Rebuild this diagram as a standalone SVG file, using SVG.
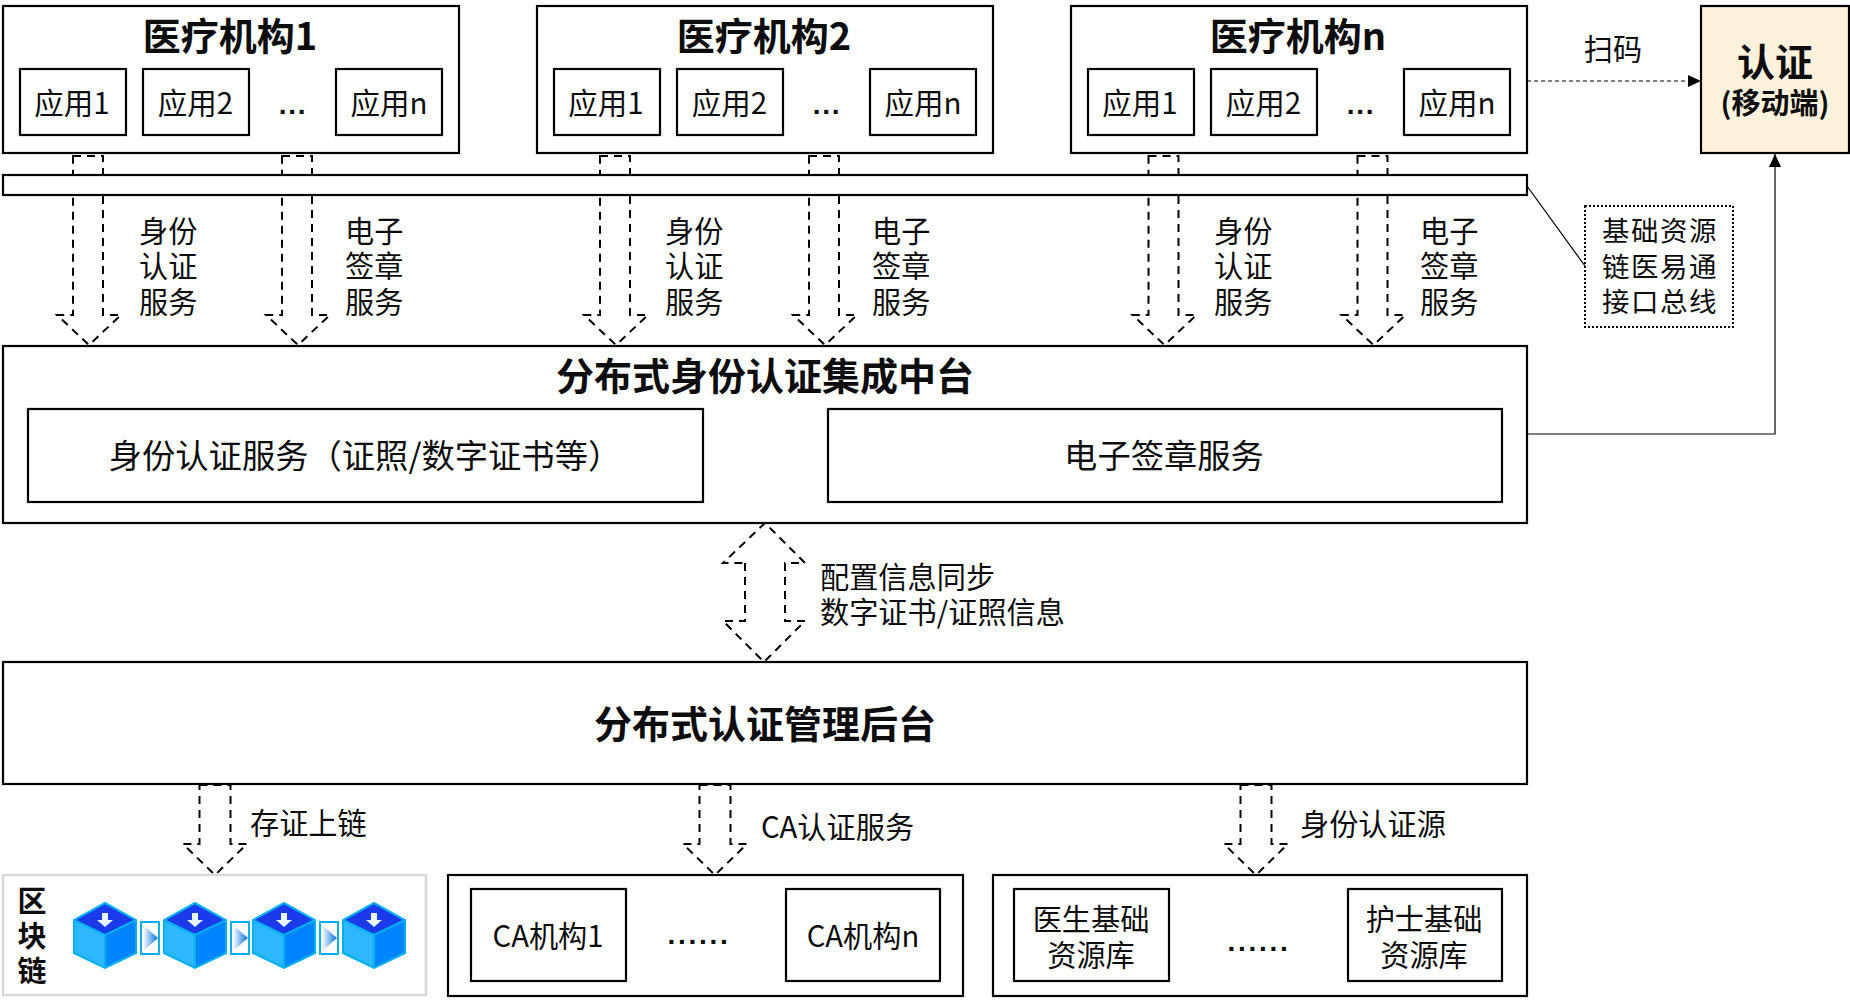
<svg xmlns="http://www.w3.org/2000/svg" width="1850" height="1006" viewBox="0 0 1850 1006">
<style>
text{font-family:"Noto Sans CJK SC","Noto Sans",sans-serif;fill:#0d0d0d;dominant-baseline:central;transform:translateY(-2.5px)}
.c{text-anchor:middle}
.t{font-size:29.200px}
.a{font-size:29.500px}
.b{font-weight:700;font-size:38px}
.m{font-size:33.300px}
.box{fill:#fff;stroke:#000;stroke-width:2.2}
.dash{fill:none;stroke:#000;stroke-width:2;stroke-dasharray:8 6}
.thin{fill:none;stroke:#000;stroke-width:1.2}
.dots{font-family:"Liberation Sans",sans-serif;font-size:28px}
</style>
<defs>
<path id="down" class="dash" d="M-15,156H15V315H33L1,345L-31,315H-15Z"/>
<path id="down2" class="dash" d="M-15.500,785H15.500V844H32L0,875L-32,844H-15.500Z"/>
<marker id="tri" markerUnits="userSpaceOnUse" markerWidth="14" markerHeight="12" refX="13" refY="6" orient="auto"><path d="M0,0L13,6L0,12Z" fill="#000"/></marker>
<linearGradient id="grad" x1="0" x2="1" y1="0" y2="0"><stop offset="0" stop-color="#fff"/><stop offset="1" stop-color="#0070E0"/></linearGradient>
<g id="cube">
<path d="M0,0L31,17V50L0,65L-31,50V17Z" fill="#2DB7FF"/>
<path d="M0,32L31,17V50L0,65Z" fill="#0084FF"/>
<path d="M0,0L31,17L0,32L-31,17Z" fill="#1B3BEB"/>
<path d="M0,0L31,17V50L0,65L-31,50V17ZM-31,17L0,32L31,17M0,32V65" fill="none" stroke="#00B0F0" stroke-width="2"/>
<path d="M-3,10H3V17H8L0,24L-8,17H-3Z" fill="#E8F8FF"/>
</g>
<g id="link">
<rect x="0" y="0" width="18" height="32" fill="#fff" stroke="#00B0F0" stroke-width="2"/>
<path d="M2,3L17,16L2,29Z" fill="url(#grad)"/>
</g>
<g id="apps">
<rect class="box" x="20" y="69" width="106" height="66"/>
<rect class="box" x="143" y="69" width="106" height="66"/>
<rect class="box" x="336" y="69" width="106" height="66"/>
<text class="a c" x="72" y="103">应用1</text>
<text class="a c" x="195.500" y="103">应用2</text>
<text class="a c" x="389" y="103">应用n</text>
<text class="dots c" x="293" y="107" font-weight="700" letter-spacing="1.800">...</text>
</g>
</defs>
<g id="connectors">
<use href="#down" x="88"/><use href="#down" x="297"/>
<use href="#down" x="615"/><use href="#down" x="824"/>
<use href="#down" x="1163.500"/><use href="#down" x="1372.500"/>
<path class="dash" d="M745,563V621H723L764,662L805,621H785V563H805L765,523L723,563Z"/>
<use href="#down2" x="215"/><use href="#down2" x="715"/><use href="#down2" x="1256"/>
<path class="thin" d="M1527,81H1701" stroke-dasharray="4 3" marker-end="url(#tri)"/>
<path class="thin" d="M1527,434H1775V154" marker-end="url(#tri)"/>
<path class="thin" d="M1527,186L1585,266"/>
</g>
<g id="org1"><rect class="box" x="3" y="6" width="456" height="147"/><text class="b c" x="230" y="36">医疗机构1</text><use href="#apps"/></g>
<g id="org2"><rect class="box" x="537" y="6" width="456" height="147"/><text class="b c" x="764" y="36">医疗机构2</text><use href="#apps" x="534"/></g>
<g id="orgn"><rect class="box" x="1071" y="6" width="456" height="147"/><text class="b c" x="1298" y="36">医疗机构n</text><use href="#apps" x="1068"/></g>
<g id="auth"><rect x="1701" y="6" width="148" height="147" fill="#FFF2DC" stroke="#000" stroke-width="2.200"/><text class="b c" x="1775" y="62">认证</text><text class="c" x="1775" y="103" font-size="29" font-weight="700">(移动端)</text></g>
<g id="bus"><rect class="box" x="3" y="175" width="1524" height="20"/></g>
<g id="bus-note"><rect x="1585" y="206" width="148" height="121" fill="#fff" stroke="#000" stroke-width="2" stroke-dasharray="2 2"/>
<text class="c" x="1660" y="231" font-size="27.500" letter-spacing="1.500">基础资源</text><text class="c" x="1660" y="267" font-size="27.500" letter-spacing="1.500">链医易通</text><text class="c" x="1660" y="302" font-size="27.500" letter-spacing="1.500">接口总线</text></g>
<g id="labels">
<text class="t" x="139" y="231">身份</text><text class="t" x="139" y="266">认证</text><text class="t" x="139" y="302">服务</text>
<text class="t" x="345" y="231">电子</text><text class="t" x="345" y="266">签章</text><text class="t" x="345" y="302">服务</text>
<text class="t" x="665" y="231">身份</text><text class="t" x="665" y="266">认证</text><text class="t" x="665" y="302">服务</text>
<text class="t" x="872" y="231">电子</text><text class="t" x="872" y="266">签章</text><text class="t" x="872" y="302">服务</text>
<text class="t" x="1214" y="231">身份</text><text class="t" x="1214" y="266">认证</text><text class="t" x="1214" y="302">服务</text>
<text class="t" x="1420" y="231">电子</text><text class="t" x="1420" y="266">签章</text><text class="t" x="1420" y="302">服务</text>
<text class="t c" x="1613" y="49">扫码</text>
<text class="t" x="820" y="577">配置信息同步</text><text class="t" x="820" y="612">数字证书/证照信息</text>
<text class="t" x="250" y="823">存证上链</text><text class="t" x="761" y="827">CA认证服务</text><text class="t" x="1300" y="824">身份认证源</text>
</g>
<g id="platform"><rect class="box" x="3" y="346" width="1524" height="177"/><text class="b c" x="765" y="376">分布式身份认证集成中台</text></g>
<g id="identity-service"><rect class="box" x="28" y="409" width="675" height="93"/><text class="m c" x="365" y="456">身份认证服务（证照/数字证书等）</text></g>
<g id="sign-service"><rect class="box" x="828" y="409" width="674" height="93"/><text class="m c" x="1164" y="456">电子签章服务</text></g>
<g id="backend"><rect class="box" x="3" y="662" width="1524" height="122"/><text class="b c" x="765" y="724">分布式认证管理后台</text></g>
<g id="blockchain"><rect x="3" y="875" width="423" height="120" fill="#fff" stroke="#D9D9D9" stroke-width="2.500"/>
<text class="c" x="32" y="901" font-size="29" font-weight="700">区</text><text class="c" x="32" y="936" font-size="29" font-weight="700">块</text><text class="c" x="32" y="971" font-size="29" font-weight="700">链</text>
<use href="#cube" x="105" y="903"/><use href="#cube" x="195" y="903"/><use href="#cube" x="284" y="903"/><use href="#cube" x="374" y="903"/>
<use href="#link" x="141" y="922"/><use href="#link" x="231" y="922"/><use href="#link" x="320" y="922"/></g>
<g id="ca"><rect class="box" x="448" y="875" width="515" height="121"/>
<rect class="box" x="471" y="889" width="155" height="92"/><text class="t c" x="548" y="936">CA机构1</text>
<rect class="box" x="786" y="889" width="154" height="92"/><text class="t c" x="863" y="936">CA机构n</text>
<text class="dots c" x="699" y="937" font-weight="700" letter-spacing="2.700">......</text></g>
<g id="resources"><rect class="box" x="993" y="875" width="534" height="121"/>
<rect class="box" x="1014" y="889" width="155" height="92"/><text class="t c" x="1091" y="919">医生基础</text><text class="t c" x="1091" y="955">资源库</text>
<rect class="box" x="1348" y="889" width="154" height="92"/><text class="t c" x="1424" y="919">护士基础</text><text class="t c" x="1424" y="955">资源库</text>
<text class="dots c" x="1259" y="944" font-weight="700" letter-spacing="2.700">......</text></g>
</svg>
